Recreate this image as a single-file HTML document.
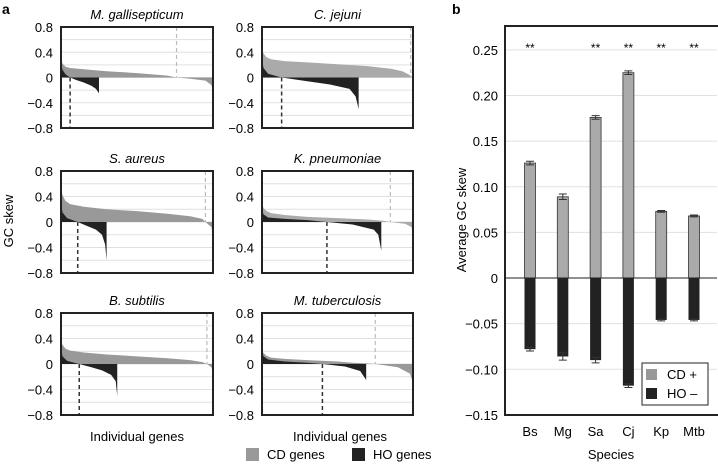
<!DOCTYPE html>
<html><head><meta charset="utf-8">
<style>
body{margin:0;background:#fff;width:718px;height:463px;overflow:hidden;font-family:"Liberation Sans",sans-serif}
svg text{font-family:"Liberation Sans",sans-serif;font-weight:normal}
</style></head>
<body>
<svg id="fig" width="718" height="463" viewBox="0 0 718 463" xmlns="http://www.w3.org/2000/svg">
<text x="2" y="14" font-size="14" style="font-weight:bold">a</text>
<text x="452" y="14" font-size="14" style="font-weight:bold">b</text>
<text transform="translate(13,221) rotate(-90)" font-size="13" text-anchor="middle">GC skew</text>
<text x="137" y="441" font-size="13" text-anchor="middle">Individual genes</text>
<text x="340" y="441" font-size="13" text-anchor="middle">Individual genes</text>
<rect x="246" y="448" width="13" height="13" fill="#999"/>
<text x="267" y="459" font-size="13">CD genes</text>
<rect x="352" y="448" width="13" height="13" fill="#222"/>
<text x="373" y="459" font-size="13">HO genes</text>
<g id="pa"></g>
<g id="pb"></g>
</svg>
<script>
const NS="http://www.w3.org/2000/svg";
// Panel a data (x = rank fraction, y = GC skew)
const speciesA=["M. gallisepticum","C. jejuni","S. aureus","K. pneumoniae","B. subtilis","M. tuberculosis"];
const cdX=[[0,0.01,0.03,0.06,0.15,0.3,0.5,0.7,0.76,0.85,0.95,0.99,1],[0,0.01,0.03,0.06,0.15,0.3,0.5,0.7,0.85,0.93,0.97,0.99,1],[0,0.01,0.03,0.06,0.15,0.3,0.5,0.7,0.85,0.93,0.95,0.99,1],[0,0.01,0.03,0.06,0.15,0.3,0.5,0.7,0.8,0.85,0.95,0.99,1],[0,0.01,0.03,0.06,0.15,0.3,0.5,0.7,0.85,0.93,0.96,0.99,1],[0,0.01,0.03,0.06,0.15,0.3,0.5,0.6,0.7,0.75,0.9,0.98,1]];
const cdY=[[0.3,0.22,0.17,0.15,0.13,0.1,0.07,0.03,0,-0.02,-0.05,-0.12,-0.25],[0.45,0.38,0.32,0.29,0.26,0.24,0.21,0.18,0.14,0.1,0.05,0.02,0],[0.55,0.42,0.33,0.28,0.24,0.2,0.17,0.13,0.09,0.05,0,-0.08,-0.25],[0.3,0.22,0.17,0.14,0.11,0.08,0.06,0.04,0.02,0,-0.03,-0.08,-0.2],[0.35,0.3,0.24,0.21,0.18,0.15,0.12,0.09,0.06,0.03,0,-0.05,-0.15],[0.22,0.17,0.13,0.1,0.08,0.06,0.04,0.02,0.01,0,-0.05,-0.15,-0.3]];
const hoX=[[0,0.01,0.03,0.06,0.1,0.15,0.2,0.23,0.25],[0,0.01,0.04,0.13,0.3,0.45,0.58,0.62,0.64],[0,0.01,0.04,0.11,0.17,0.23,0.27,0.29,0.3],[0,0.01,0.04,0.15,0.3,0.43,0.6,0.74,0.77,0.79],[0,0.01,0.04,0.12,0.2,0.27,0.33,0.36,0.37],[0,0.01,0.04,0.15,0.3,0.4,0.55,0.65,0.69]];
const hoY=[[0.25,0.12,0.05,0,-0.04,-0.08,-0.13,-0.18,-0.25],[0.3,0.15,0.06,0,-0.06,-0.11,-0.18,-0.3,-0.5],[0.3,0.15,0.06,0,-0.06,-0.12,-0.2,-0.35,-0.6],[0.2,0.12,0.07,0.05,0.03,0,-0.04,-0.12,-0.2,-0.45],[0.25,0.12,0.05,0,-0.05,-0.1,-0.17,-0.27,-0.5],[0.2,0.12,0.07,0.04,0.02,0,-0.04,-0.11,-0.25]];
const cdZero=[0.76,0.985,0.95,0.85,0.96,0.75];
const hoZero=[0.06,0.13,0.11,0.43,0.12,0.4];
const cdColor=["#999","#aaa","#999","#aaa","#999","#999"];
const ticksA=[0.8,0.4,0,-0.4,-0.8];
const tickLabelsA=["0.8","0.4","0","\u22120.4","\u22120.8"];

// Panel b data
const speciesB=["Bs","Mg","Sa","Cj","Kp","Mtb"];
const cdMean=[0.126,0.089,0.176,0.225,0.073,0.068];
const cdErr=[0.002,0.003,0.002,0.002,0.001,0.001];
const hoMean=[-0.078,-0.086,-0.090,-0.118,-0.046,-0.046];
const hoErr=[0.002,0.004,0.003,0.002,0.001,0.001];
const signif=["**","","**","**","**","**"];
const ticksB=[0.25,0.2,0.15,0.1,0.05,0,-0.05,-0.1,-0.15];
const tickLabelsB=["0.25","0.20","0.15","0.10","0.05","0","\u22120.05","\u22120.10","\u22120.15"];

function mk(tag,attrs,parent){const e=document.createElementNS(NS,tag);for(const k in attrs)e.setAttribute(k,attrs[k]);parent.appendChild(e);return e;}

const pa=document.getElementById('pa');
const cols=[[61,213],[262,413]];
const rows=[[27,128],[171,273],[313,415]];
speciesA.forEach((name,i)=>{
  const c=cols[i%2],r=rows[Math.floor(i/2)];
  const sx=f=>c[0]+f*(c[1]-c[0]);
  const sy=v=>r[0]+(0.8-v)/1.6*(r[1]-r[0]);
  const g=mk('g',{},pa);
  
  
  const t=mk('text',{x:(c[0]+c[1])/2,y:r[0]-8,'font-size':13,'font-style':'italic','text-anchor':'middle'},g);
  t.textContent=name;
  
  
  for(let v=-0.6;v<0.8;v+=0.2){const l=mk('line',{x1:c[0],x2:c[1],y1:sy(v),y2:sy(v),stroke:'#e0e0e0','stroke-width':1},g);
    
    }
  ticksA.forEach((v,k)=>{const tl=mk('text',{x:c[0]-8,y:sy(v)+5,'font-size':13,'text-anchor':'end'},g);tl.textContent=tickLabelsA[k];
    
    });
  let p='M'+sx(cdX[i][0])+','+sy(0);
  cdX[i].forEach((x,k)=>p+=' L'+sx(x)+','+sy(cdY[i][k]));
  p+=' L'+sx(cdX[i][cdX[i].length-1])+','+sy(0)+'Z';
  const cd=mk('path',{d:p,fill:cdColor[i]},g);
  
  
  let q='M'+sx(hoX[i][0])+','+sy(0);
  hoX[i].forEach((x,k)=>q+=' L'+sx(x)+','+sy(hoY[i][k]));
  q+=' L'+sx(hoX[i][hoX[i].length-1])+','+sy(0)+'Z';
  const ho=mk('path',{d:q,fill:'#222'},g);
  
  
  const d1=mk('line',{x1:sx(cdZero[i]),x2:sx(cdZero[i]),y1:r[0],y2:sy(0),stroke:'#bbb','stroke-width':1.2,'stroke-dasharray':'4,3'},g);
  
  
  const d2=mk('line',{x1:sx(hoZero[i]),x2:sx(hoZero[i]),y1:sy(0),y2:r[1],stroke:'#333','stroke-width':1.5,'stroke-dasharray':'4,3'},g);
  
  
  const fr=mk('rect',{x:c[0],y:r[0],width:c[1]-c[0],height:r[1]-r[0],fill:'none',stroke:'#222','stroke-width':2},g);
  
  
});

// Panel b
const pb=document.getElementById('pb');
const bx0=505,bx1=717,byTop=26,byBot=415;
const syb=v=>278-v*912.5;
const sxb=k=>530+k*32.8;
ticksB.forEach((v,k)=>{
  if(v!==0&&v!==-0.15){const l=mk('line',{x1:bx0,x2:bx1,y1:syb(v),y2:syb(v),stroke:'#e0e0e0','stroke-width':1},pb);
    
    }
  const tl=mk('text',{x:498,y:syb(v)+5,'font-size':13,'text-anchor':'end'},pb);tl.textContent=tickLabelsB[k];
  
  
});
speciesB.forEach((s,k)=>{
  const x=sxb(k),w=11;
  const b1=mk('rect',{x:x-w/2,y:syb(cdMean[k]),width:w,height:syb(0)-syb(cdMean[k]),fill:'#aaa',stroke:'#333','stroke-width':0.8},pb);
  
  
  const b2=mk('rect',{x:x-w/2,y:syb(0),width:w,height:syb(hoMean[k])-syb(0),fill:'#222'},pb);
  
  
  [[cdMean[k],cdErr[k]],[hoMean[k],hoErr[k]]].forEach(([m,e])=>{
    const eb=mk('path',{d:`M${x},${syb(m-e)} V${syb(m+e)} M${x-4},${syb(m+e)} H${x+4} M${x-4},${syb(m-e)} H${x+4}`,stroke:'#333','stroke-width':1,fill:'none'},pb);
    
    
  });
  const tl=mk('text',{x:x,y:436,'font-size':13,'text-anchor':'middle'},pb);tl.textContent=s;
  
  
  if(signif[k]){const st=mk('text',{x:x,y:52,'font-size':12,'text-anchor':'middle'},pb);st.textContent=signif[k];
    
    }
});
const zl=mk('line',{x1:bx0,x2:bx1,y1:syb(0),y2:syb(0),stroke:'#222','stroke-width':1},pb);


const fb=mk('path',{d:`M${bx1+2},${byTop} H${bx0} V${byBot} H${bx1+2}`,fill:'none',stroke:'#222','stroke-width':2},pb);


const yt=mk('text',{transform:'translate(466,220) rotate(-90)','font-size':13,'text-anchor':'middle'},pb);yt.textContent='Average GC skew';


const xt=mk('text',{x:611,y:459,'font-size':13,'text-anchor':'middle'},pb);xt.textContent='Species';


const lg=mk('g',{},pb);


mk('rect',{x:642,y:363,width:66,height:42,fill:'#fff',stroke:'#222','stroke-width':1},lg);
mk('rect',{x:646,y:369,width:11,height:11,fill:'#999'},lg);
mk('rect',{x:646,y:388,width:11,height:11,fill:'#222'},lg);
const l1=mk('text',{x:667,y:379,'font-size':13},lg);l1.textContent='CD +';


const l2=mk('text',{x:667,y:398,'font-size':13},lg);l2.textContent='HO \u2013';


</script>
</body></html>
